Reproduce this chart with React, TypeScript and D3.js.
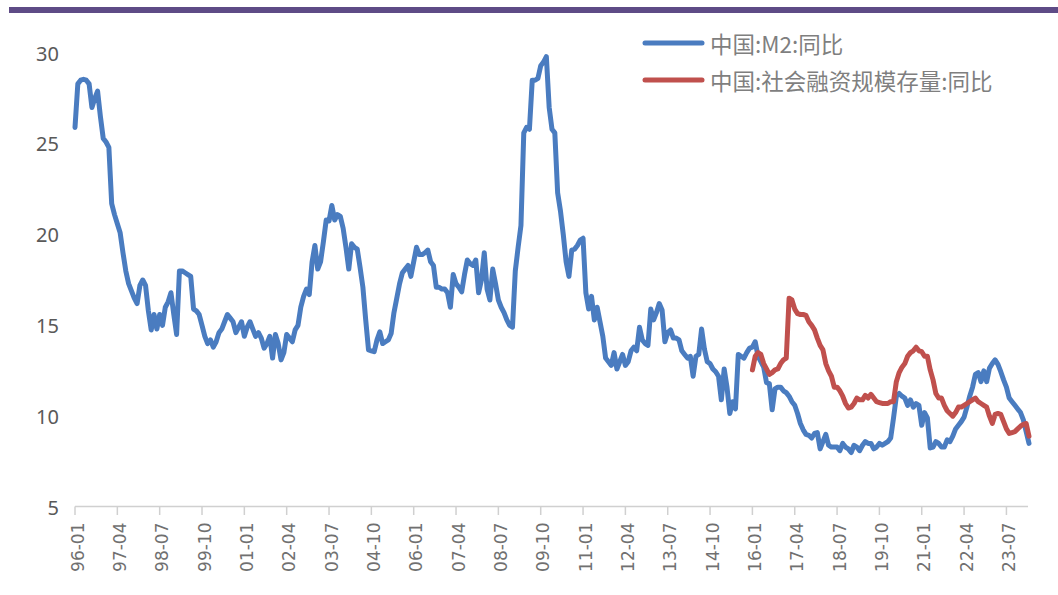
import * as d3 from 'd3';
import { useEffect, useRef } from 'react';

// month categories 1996-01 .. 2024-03
const months = d3.timeMonth
  .range(new Date(1996, 0, 1), new Date(2024, 3, 1))
  .map(d3.timeFormat('%y-%m'));

const tickLabels = [
  '96-01', '97-04', '98-07', '99-10', '01-01', '02-04', '03-07', '04-10',
  '06-01', '07-04', '08-07', '09-10', '11-01', '12-04', '13-07', '14-10',
  '16-01', '17-04', '18-07', '19-10', '21-01', '22-04', '23-07',
];

const yTicks = [5, 10, 15, 20, 25, 30];

// 中国:M2:同比, one row per year
const m2Yoy = [
  25.9, 28.3, 28.5, 28.55, 28.5, 28.3, 27.0, 27.5, 27.9, 26.5, 25.3, 25.1,
  24.8, 21.7, 21.1, 20.6, 20.1, 19.0, 18.0, 17.3, 16.9, 16.5, 16.2, 17.2,
  17.5, 17.2, 15.8, 14.75, 15.6, 14.8, 15.6, 15.0, 16.0, 16.3, 16.8, 15.6,
  14.5, 18.0, 18.0, 17.9, 17.8, 17.7, 15.9, 15.8, 15.6, 15.0, 14.4, 14.0,
  14.2, 13.8, 14.1, 14.6, 14.8, 15.2, 15.6, 15.4, 15.2, 14.6, 14.9, 15.2,
  14.4, 14.9, 15.2, 14.8, 14.4, 14.6, 14.3, 13.75, 14.0, 14.4, 13.2, 14.5,
  14.0, 13.1, 13.5, 14.5, 14.3, 14.1, 14.75, 15.0, 16.0, 16.6, 17.0, 16.7,
  18.5, 19.4, 18.1, 18.5, 19.6, 20.8, 20.75, 21.6, 20.8, 21.1, 21.0, 20.35,
  19.3, 18.1, 19.5, 19.3, 19.2, 18.2, 17.1, 15.3, 13.65, 13.6, 13.55, 14.2,
  14.65, 14.0, 14.1, 14.2, 14.55, 15.7, 16.5, 17.3, 17.9, 18.1, 18.3, 17.7,
  18.5, 19.3, 18.9, 18.9, 19.0, 19.15, 18.5, 18.3, 17.1, 17.1, 17.0, 17.0,
  16.8, 16.0, 17.8, 17.3, 17.1, 16.85, 17.8, 18.6, 18.4, 18.3, 18.6, 16.8,
  17.5, 19.0, 17.0, 16.4, 18.1, 17.3, 16.4, 16.0, 15.7, 15.3, 15.0, 14.9,
  18.0, 19.3, 20.5, 25.6, 25.9, 25.8, 28.5, 28.5, 28.6, 29.3, 29.5, 29.8,
  27.0, 25.8, 25.6, 22.3, 21.3, 20.0, 18.5, 17.7, 19.15, 19.2, 19.4, 19.7,
  19.8, 16.8, 15.9, 16.6, 15.3, 16.0, 15.2, 14.4, 13.2, 13.0, 12.8, 13.5,
  12.6, 13.0, 13.4, 12.8, 13.0, 13.6, 13.8, 13.6, 14.9, 14.2, 14.0, 13.9,
  15.9, 15.3, 15.7, 16.2, 15.85, 14.1, 14.6, 14.75, 14.3, 14.3, 14.2, 13.6,
  13.4, 13.2, 13.3, 12.2, 13.3, 13.4, 14.8, 13.7, 13.0, 12.9, 12.6, 12.45,
  12.2, 10.9, 12.6, 11.6, 10.15, 10.8, 10.4, 13.4, 13.3, 13.2, 13.5, 13.75,
  13.8, 14.1, 13.3, 13.0, 12.7, 11.85, 11.8, 10.35, 11.5, 11.6, 11.6, 11.4,
  11.3, 11.1, 10.8, 10.6, 10.15, 9.6, 9.25, 9.0, 8.95, 8.8, 9.05, 9.1,
  8.2, 8.6, 9.0, 8.4, 8.3, 8.3, 8.3, 8.1, 8.5, 8.3, 8.2, 8.0,
  8.4, 8.3, 8.1, 8.4, 8.6, 8.5, 8.5, 8.2, 8.3, 8.5, 8.4, 8.5,
  8.6, 8.8, 9.9, 11.1, 11.25, 11.1, 11.0, 10.6, 10.9, 10.5, 10.7, 10.6,
  9.5, 10.2, 9.9, 8.25, 8.3, 8.6, 8.5, 8.3, 8.3, 8.7, 8.6, 8.9,
  9.3, 9.5, 9.7, 9.95, 10.5, 11.1, 11.6, 12.3, 12.4, 11.9, 12.5, 11.9,
  12.65, 12.9, 13.1, 12.85, 12.45, 12.0, 11.6, 11.0, 10.8, 10.6, 10.4, 10.2,
  9.8, 9.15, 8.5,
];

// 中国:社会融资规模存量:同比, from 16-01
const tsfStart = '16-01';
const tsfYoy = [
  12.55, 13.3, 13.5, 13.4, 12.9, 12.6, 12.3, 12.4, 12.55, 12.6, 12.9, 13.1,
  13.2, 16.5, 16.4, 15.9, 15.65, 15.6, 15.6, 15.55, 15.2, 15.0, 14.75, 14.3,
  13.9, 13.65, 12.9, 12.5, 12.2, 11.6, 11.6, 11.4, 11.1, 10.7, 10.45, 10.5,
  10.7, 11.0, 10.9, 10.9, 11.15, 11.0, 11.2, 11.0, 10.8, 10.75, 10.7, 10.7,
  10.7, 10.8, 10.8, 11.9, 12.4, 12.7, 12.9, 13.3, 13.5, 13.6, 13.8, 13.6,
  13.55, 13.3, 13.3, 12.55, 12.0, 11.25, 11.0, 11.0, 10.6, 10.3, 10.15, 10.0,
  10.2, 10.5, 10.5, 10.6, 10.7, 10.8, 10.9, 11.0, 10.8, 10.7, 10.6, 10.5,
  10.0, 9.6, 10.1, 10.15, 10.1, 9.7, 9.3, 9.05, 9.1, 9.15, 9.3, 9.45,
  9.55, 9.6, 8.9,
];

const seriesNames = ['中国:M2:同比', '中国:社会融资规模存量:同比'];
const colors = ['#4a7cc0', '#c0504d'];

const App = () => {
  const svgRef = useRef<SVGSVGElement>(null);

  useEffect(() => {
    const svg = d3.select(svgRef.current);
    svg.selectAll('*').remove();

    const x = d3.scalePoint<string>().domain(months).range([75, 1029]);
    const y = d3.scaleLinear().domain([5, 30]).range([507, 53]);

    // purple band on top
    svg.append('rect')
      .attr('x', 9).attr('y', 7).attr('width', 1049).attr('height', 6)
      .attr('fill', '#5e4b86');

    // y labels
    svg.append('g')
      .selectAll('text')
      .data(yTicks)
      .enter()
      .append('text')
      .attr('x', 59)
      .attr('y', (d) => y(d))
      .attr('text-anchor', 'end')
      .attr('dominant-baseline', 'central')
      .attr('font-family', '"Noto Sans", sans-serif')
      .attr('font-size', 20)
      .attr('fill', '#595959')
      .text((d) => d);

    // x axis
    const xAxis = svg.append('g').attr('transform', 'translate(0,' + 506.5 + ')');
    xAxis.append('line')
      .attr('x1', 75).attr('x2', 1028)
      .attr('stroke', '#d0d0d0').attr('stroke-width', 1.5);
    const ticks = xAxis.selectAll('.tick')
      .data(tickLabels)
      .enter()
      .append('g')
      .attr('class', 'tick')
      .attr('transform', (d) => 'translate(' + x(d) + ',0)');
    ticks.append('line')
      .attr('y2', 8.5)
      .attr('stroke', '#d0d0d0').attr('stroke-width', 1.5);
    ticks.append('text')
      .attr('transform', 'translate(2.5,16) rotate(-90)')
      .attr('text-anchor', 'end')
      .attr('dominant-baseline', 'central')
      .attr('font-family', '"DejaVu Sans", sans-serif')
      .attr('font-size', 17)
      .attr('fill', '#707070')
      .text((d) => d);

    // lines
    const startIdx = months.indexOf(tsfStart);
    const series = [
      m2Yoy.map((v, i) => ({ m: months[i], v })),
      tsfYoy.map((v, i) => ({ m: months[startIdx + i], v })),
    ];
    const line = d3.line<{ m: string; v: number }>()
      .x((d) => x(d.m) as number)
      .y((d) => y(d.v));
    svg.append('g')
      .selectAll('path')
      .data(series)
      .enter()
      .append('path')
      .attr('d', (d) => line(d))
      .attr('fill', 'none')
      .attr('stroke', (d, i) => colors[i])
      .attr('stroke-width', 5)
      .attr('stroke-linejoin', 'round')
      .attr('stroke-linecap', 'round');

    // legend
    const legend = svg.append('g')
      .selectAll('g')
      .data(seriesNames)
      .enter()
      .append('g')
      .attr('transform', (d, i) => 'translate(645,' + (43 + i * 37) + ')');
    legend.append('line')
      .attr('x1', 0).attr('x2', 57)
      .attr('stroke', (d, i) => colors[i])
      .attr('stroke-width', 5)
      .attr('stroke-linecap', 'round');
    legend.append('text')
      .attr('x', 65)
      .attr('dominant-baseline', 'central')
      .attr('font-family', '"Noto Sans CJK SC", sans-serif')
      .attr('font-size', 22.5)
      .attr('fill', '#7f7f7f')
      .text((d) => d);
  }, []);

  return (
    <svg
      ref={svgRef}
      width={1058}
      height={595}
      style={{ position: 'absolute', left: 0, top: 0, background: '#fff' }}
    ></svg>
  );
};

export default App;
